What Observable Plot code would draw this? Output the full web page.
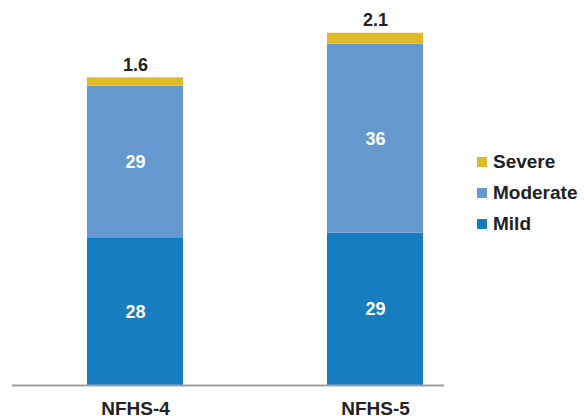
<!DOCTYPE html>
<html>
<head>
<meta charset="utf-8">
<script src="https://cdn.jsdelivr.net/npm/d3@7"></script>
<script src="https://cdn.jsdelivr.net/npm/@observablehq/plot@0.6"></script>
<style>
  html, body { margin: 0; padding: 0; background: #fff; }
  #wrap { position: relative; width: 584px; height: 416px; font-family: "Liberation Sans", Arial, sans-serif; }
  #legend { position: absolute; left: 477px; top: 146px; }
  .item { display: flex; align-items: center; height: 31px; font-weight: bold; font-size: 19px; color: #222; }
  .sw { width: 10px; height: 10px; margin-right: 6px; }
</style>
</head>
<body>
<div id="wrap"><div id="chart"></div><div id="legend"></div></div>
<script>
const surveys = ["NFHS-4", "NFHS-5"];
const levels = ["Mild", "Moderate", "Severe"];
const mild = [28, 29];
const moderate = [29, 36];
const severe = [1.6, 2.1];
const colors = ["#167DC1", "#6699CF", "#E0BA24"];
const legendOrder = ["Severe", "Moderate", "Mild"];

const series = {Mild: mild, Moderate: moderate, Severe: severe};
const data = [];
levels.forEach(l => surveys.forEach((s, i) => data.push({survey: s, level: l, value: series[l][i]})));

const chart = Plot.plot({
  width: 584,
  height: 416,
  marginLeft: 12,
  marginRight: 140,
  marginTop: 17.5,
  marginBottom: 31,
  style: {fontFamily: "Liberation Sans, Arial, sans-serif", background: "#fff", overflow: "visible"},
  x: {domain: surveys, paddingInner: 0.6, paddingOuter: 0.2, align: 0.78125, label: null, tickSize: 0, tickPadding: 16},
  y: {domain: [0, 70], axis: null},
  color: {domain: levels, range: colors},
  marks: [
    Plot.barY(data, Plot.stackY({x: "survey", y: "value", fill: "level", order: levels})),
    Plot.ruleY([0], {stroke: "#A0A0A0", strokeWidth: 2}),
    Plot.text(data, Plot.stackY({
      x: "survey", y: "value", z: "level", order: levels,
      text: d => d.level !== "Severe" ? String(d.value) : "",
      fill: "#fff", fontSize: 18, fontWeight: "bold"
    })),
    Plot.text(data, Plot.stackY2({
      x: "survey", y: "value", z: "level", order: levels,
      text: d => d.level === "Severe" ? String(d.value) : "",
      fill: "#222", fontSize: 18, fontWeight: "bold", lineAnchor: "bottom", dy: -7
    })),
    Plot.axisX({tickSize: 0, tickPadding: 16, fontSize: 19, fontWeight: "bold", fill: "#222", label: null})
  ]
});
document.getElementById("chart").appendChild(chart);

const legend = document.getElementById("legend");
legendOrder.forEach(l => {
  const item = document.createElement("div");
  item.className = "item";
  const sw = document.createElement("div");
  sw.className = "sw";
  sw.style.background = colors[levels.indexOf(l)];
  const t = document.createElement("span");
  t.textContent = l;
  item.appendChild(sw);
  item.appendChild(t);
  legend.appendChild(item);
});
</script>
</body>
</html>
